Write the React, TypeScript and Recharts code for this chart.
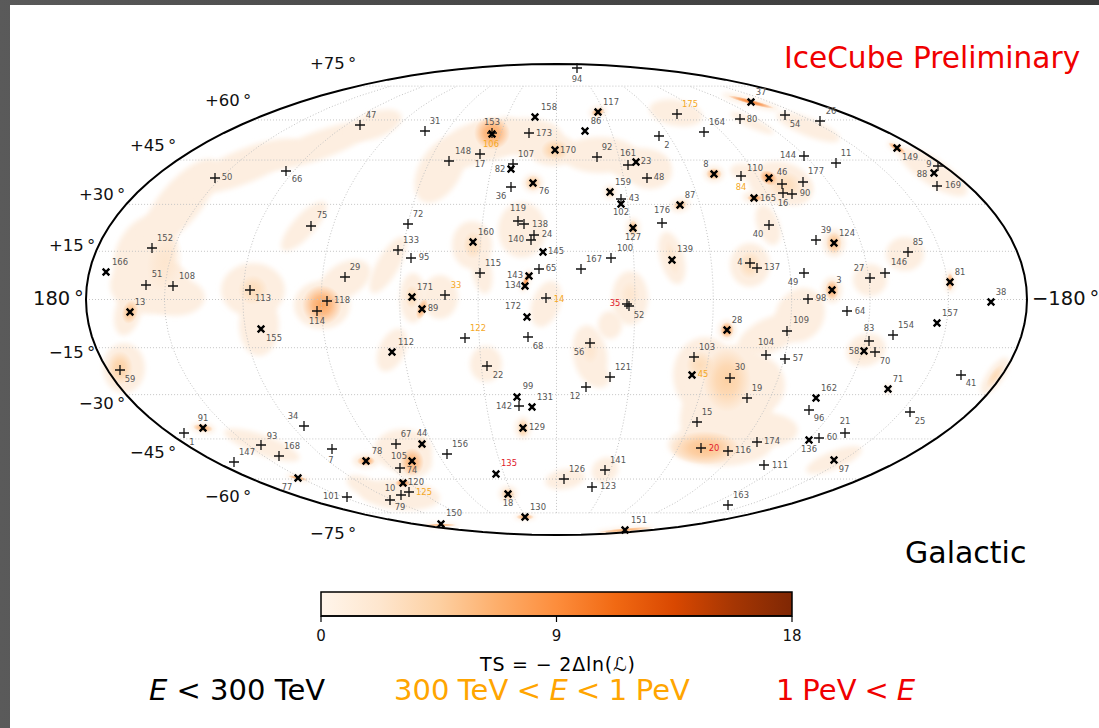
import React from "react";
import { ComposedChart, Scatter, XAxis, YAxis, ReferenceArea } from "recharts";

// Map plane of the picture (Mollweide, galactic): x 0..1099, y 0..728
const MAP_CENTRE_X = 556.5;
const MAP_CENTRE_Y = 299.5;
const MAP_A = 470.5;
const MAP_B = 235.5;

// [id, x, y, labelX, labelY]
const plusMarkers: number[][] = [
  [47,360,125,371,115],[50,215,178,227,177],[66,286,171,297,179],[75,311,226,322,215],[152,152,248,165,238],
  [51,146,285,157,274],[108,173,286,187,276],[113,250,290,263,298],[29,345,277,355,267],[118,327,301,342,300],
  [114,317,311,317,321],[59,120,370,130,379],[1,184,433,192,442],[34,304,426,293,416],[93,261,445,272,436],
  [147,234,462,247,452],[168,279,456,292,446],[7,332,449,331,460],[101,347,497,331,496],[94,577,68,577,79],
  [31,425,131,435,121],[153,492,133,492,122],[173,529,133,544,133],[148,449,161,463,151],[17,480,154,480,164],
  [107,513,164,526,154],[92,597,157,607,147],[161,628,165,628,153],[48,647,178,659,177],[2,659,136,667,145],
  [36,511,187,501,196],[43,621,199,634,198],[176,662,223,662,210],[119,518,221,518,208],[138,524,224,540,224],
  [24,534,235,547,234],[140,531,240,516,239],[72,408,224,418,214],[133,398,250,411,240],[95,411,258,424,257],
  [100,611,258,625,248],[167,581,269,594,259],[65,539,269,551,268],[115,480,273,493,263],[33,445,295,456,285],
  [14,546,298,559,299],[80,740,119,752,119],[54,785,115,795,124],[26,820,121,831,111],[175,677,114,690,104],
  [164,704,132,717,122],[144,804,156,788,155],[11,836,163,846,153],[9,938,166,929,164],[169,937,186,953,185],
  [84,741,176,741,187],[46,782,184,782,172],[177,803,182,816,171],[16,783,193,783,203],[90,792,194,805,193],
  [40,769,225,758,234],[39,816,240,826,230],[85,908,252,918,242],[146,885,273,899,262],[27,870,278,859,268],
  [4,750,263,740,262],[137,757,268,772,267],[49,804,273,793,282],[98,808,299,821,298],[64,847,311,860,311],
  [154,893,335,906,325],[83,869,341,869,328],[70,875,352,885,361],[109,787,331,801,320],[104,766,355,766,342],
  [57,785,359,798,358],[41,961,375,971,383],[30,730,378,740,367],[19,747,398,757,388],[96,809,410,819,418],
  [25,910,412,920,421],[21,845,433,845,421],[60,819,438,832,437],[174,757,442,772,441],[116,728,451,743,450],
  [111,764,465,780,465],[163,728,505,741,495],[35,627,304,615,303],[52,629,306,639,315],[122,465,338,478,328],
  [68,528,337,538,346],[56,590,343,579,352],[103,694,357,707,347],[22,487,366,498,375],[121,610,377,623,367],
  [12,586,387,575,396],[142,519,406,504,406],[15,697,422,707,412],[67,396,444,406,434],[156,447,454,460,444],
  [20,701,448,714,448],[74,400,468,412,470],[141,605,470,618,460],[126,564,479,577,469],[123,592,487,608,486],
  [125,409,492,424,492],[10,401,495,390,488],[79,390,500,400,507],
];

const crossMarkers: number[][] = [
  [166,106,272,120,262],[13,130,312,140,302],[155,261,329,274,338],[91,203,428,203,418],[77,298,478,287,487],
  [78,366,461,377,451],[158,535,117,549,107],[117,598,112,611,102],[86,585,131,596,121],[106,492,134,491,144],
  [82,511,169,500,169],[170,555,150,568,150],[23,636,162,646,161],[76,533,183,544,191],[159,610,192,623,182],
  [102,621,204,621,212],[87,680,205,690,195],[127,633,228,633,237],[160,473,242,486,232],[145,543,252,556,251],
  [139,672,260,685,249],[143,529,276,515,275],[134,525,286,513,285],[171,412,297,425,287],[37,751,102,761,92],
  [149,897,148,910,157],[88,934,173,922,174],[8,714,174,706,164],[110,769,178,755,168],[165,754,198,768,198],
  [124,834,243,847,233],[81,950,282,960,272],[3,832,290,839,280],[38,991,302,1001,292],[157,937,323,950,313],
  [58,864,351,854,351],[28,727,330,737,320],[71,888,389,898,379],[162,816,398,829,388],[136,809,440,809,449],
  [97,834,460,844,469],[89,422,309,433,308],[172,527,317,513,306],[112,392,352,406,342],[45,692,375,703,374],
  [99,517,397,528,386],[131,532,407,545,397],[129,523,428,537,427],[44,422,444,422,433],[105,412,461,399,456],
  [135,496,474,509,463],[120,403,483,416,482],[18,508,494,508,503],[130,525,517,538,507],[150,441,524,454,513],
  [151,625,530,639,520],
];

const orangeLabels = [33, 14, 175, 84, 122, 45, 125, 106];
const redLabels = [35, 20, 135];

// pale TS regions: [x, y, rx, ry, tilt]
const regions: number[][] = [
  [150,285,40,29,0],[175,297,30,19,0],[145,252,28,40,30],[180,203,55,21,-50],[245,166,60,17,-22],[320,145,60,14,-20],
  [375,125,28,13,-20],[128,312,13,24,15],[253,290,32,27,0],[259,325,20,31,0],[322,305,28,24,0],[345,280,28,17,-30],
  [388,265,32,11,-60],[304,226,32,11,-48],[413,298,13,25,0],[440,297,18,22,0],[392,350,13,23,25],[486,364,16,18,0],
  [472,245,20,24,0],[482,272,10,22,-10],[522,230,24,28,0],[526,281,4,12,20],[546,304,14,24,20],[440,170,21,36,30],
  [470,145,35,20,-25],[490,140,25,20,0],[505,135,20,18,0],[525,137,38,19,0],[553,150,24,16,0],[600,155,38,18,0],[640,165,30,17,0],
  [650,172,22,17,0],[533,183,10,9,0],[714,174,10,8,0],[680,205,10,7,-15],[610,192,6,7,0],[633,228,7,10,0],
  [672,258,12,27,-15],[598,112,9,6,-15],[676,113,27,13,10],[751,102,30,4,15],[752,123,24,5,25],[808,127,34,9,22],
  [933,172,40,13,33],[897,148,11,4,30],[745,172,15,8,10],[780,183,32,21,10],[795,190,18,15,0],[755,197,12,6,0],
  [768,225,11,21,-20],[834,243,11,14,0],[905,254,19,17,0],[870,280,17,16,0],[750,265,20,22,0],[950,282,5,11,0],
  [832,290,10,13,0],[800,315,24,28,30],[770,335,35,17,-25],[705,375,32,38,0],[735,375,30,30,0],[755,385,30,30,0],
  [710,420,30,40,0],[730,410,42,30,0],[720,445,52,21,0],[760,430,38,18,0],[727,330,9,10,0],[866,350,20,16,-20],[995,376,22,8,-55],
  [834,460,30,9,-22],[888,389,4,5,0],[124,368,21,25,0],[203,428,12,5,8],[298,478,12,3,12],[366,461,13,7,0],
  [262,445,40,10,20],[403,450,29,21,0],[412,462,20,16,0],[400,495,40,15,5],[365,487,20,9,25],[508,494,9,8,0],
  [523,428,8,11,0],[525,517,11,3,0],[441,525,18,2,0],[625,530,30,2.5,-5],[565,479,20,10,-10],[605,470,14,12,-35],
  [590,355,17,30,-10],[600,378,10,10,0],[630,298,18,27,0],[610,325,12,14,0],
];

// brighter TS peaks: [x, y, rx, ry, tilt, ts]
const peaks: number[][] = [
  [322,305,20,20,0,7],[492,133,18,17,0,7],[555,150,14,11,0,4],[130,312,8,12,15,5],[120,368,13,17,0,4],[253,290,15,15,0,3],
  [412,297,7,12,0,3],[422,309,5,11,20,6],[526,281,3,11,20,8],[533,183,8,8,0,4],[714,174,8,6,0,6],[680,205,7,5,-15,5],
  [610,192,5,6,0,3],[633,228,5,8,0,5],[598,112,7,4,-15,6],[751,102,24,2.5,15,10],[769,178,10,7,30,8],[785,185,18,14,10,3],
  [755,198,8,3.5,0,7],[897,148,10,3,30,8],[834,243,8,11,0,5],[950,282,3.5,9,0,7],[832,290,7,10,0,6],[727,330,7,8,0,7],
  [672,258,6,18,-15,2],[750,265,12,14,0,3],[705,448,35,17,0,5],[727,380,24,32,0,4],[700,365,14,14,0,3],[412,462,12,14,0,6],
  [422,444,5,7,0,3],[403,483,8,4,0,8],[366,461,9,5,0,7],[298,478,10,2,12,7],[203,428,10,4,8,6],[508,494,7,6,0,4],
  [523,428,6,9,0,4],[525,517,9,3,0,6],[441,525,16,1.5,0,6],[625,530,28,2,-5,6],[864,351,12,10,-20,2],[995,376,14,5,-55,3],
  [473,245,10,14,0,3],[630,295,10,14,0,2],[590,350,9,14,0,2],[165,262,18,30,10,2],
];

const latitudeLabels: [string, number, number][] = [
  ["+75\u2009°",310,63],["+60\u2009°",205,100],["+45\u2009°",130,145],["+30\u2009°",79,194],["+15\u2009°",49,245],
  ["−15\u2009°",49,352],["−30\u2009°",79,403],["−45\u2009°",130,452],["−60\u2009°",205,496],["−75\u2009°",310,533],
];
const longitudeLabels: [string, number, number][] = [["180\u2009°",33,298],["−180\u2009°",1032,298]];

const gridLatitudes = [-75,-60,-45,-30,-15,0,15,30,45,60,75];
const gridLongitudes = [-150,-120,-90,-60,-30,0,30,60,90,120,150];

const tsTicks = [0, 9, 18];
const orangesStops = ["#fff5eb","#fee6ce","#fdd0a2","#fdae6b","#fd8d3c","#f16913","#d94801","#a63603","#7f2704"];
const peakColours: Record<number, string> = {
  2:"#fde6cf",3:"#fddcb9",4:"#fdd0a2",5:"#fdc28a",6:"#fdb272",7:"#fda65f",8:"#fd9a4f",9:"#fd8d3c",10:"#f87f2c",
};

const FONT = "'DejaVu Sans', sans-serif";

function auxAngle(latDeg: number): number {
  const target = Math.PI * Math.sin((latDeg * Math.PI) / 180);
  let t = (latDeg * Math.PI) / 360;
  for (let i = 0; i < 30; i++) t -= (2 * t + Math.sin(2 * t) - target) / (2 + 2 * Math.cos(2 * t));
  return t;
}
function project(lonDeg: number, latDeg: number) {
  const t = auxAngle(latDeg);
  return { x: MAP_CENTRE_X + (MAP_A * lonDeg * Math.cos(t)) / 180, y: MAP_CENTRE_Y - MAP_B * Math.sin(t) };
}
const parallels = gridLatitudes.map((lat) => [project(-180, lat), project(180, lat)]);
const latSteps: number[] = [];
for (let l = -75; l <= 75; l += 5) latSteps.push(l);
const meridians = gridLongitudes.map((lon) => latSteps.map((lat) => project(lon, lat)));
const outlineAngles: number[] = [];
for (let a = 0; a <= 360; a += 3) outlineAngles.push(a);
const outline = outlineAngles.map((a) => ({
  x: MAP_CENTRE_X + MAP_A * Math.cos((a * Math.PI) / 180),
  y: MAP_CENTRE_Y + MAP_B * Math.sin((a * Math.PI) / 180),
}));

const regionData = regions.map(([x, y, rx, ry, tilt]) => ({ x, y, rx, ry, tilt }));
const peakData = peaks.map(([x, y, rx, ry, tilt, ts]) => ({ x, y, rx, ry, tilt, ts }));
const plusData = plusMarkers.map(([id, x, y]) => ({ id, x, y }));
const crossData = crossMarkers.map(([id, x, y]) => ({ id, x, y }));
const labelData = [...plusMarkers, ...crossMarkers].map(([id, , , x, y]) => ({ id, x, y }));
const latData = latitudeLabels.map(([text, x, y]) => ({ text, x, y }));
const lonData = longitudeLabels.map(([text, x, y]) => ({ text, x, y }));
const barCorners = [{ t: 0, v: 0 }, { t: 9, v: 1 }, { t: 18, v: 1 }];

const Nothing = () => <g />;
const RegionShape = (p: any) => (
  <g filter="url(#softEdge)">
    <ellipse
      cx={p.cx} cy={p.cy} rx={p.payload.rx} ry={p.payload.ry}
      transform={`rotate(${p.payload.tilt} ${p.cx} ${p.cy})`}
      fill="#fdeee0"
    />
  </g>
);
const PeakShape = (p: any) => (
  <ellipse
    cx={p.cx} cy={p.cy} rx={p.payload.rx} ry={p.payload.ry}
    transform={`rotate(${p.payload.tilt} ${p.cx} ${p.cy})`}
    fill={`url(#peak${p.payload.ts})`}
  />
);
const PlusShape = (p: any) => (
  <path d={`M${p.cx - 5} ${p.cy}H${p.cx + 5}M${p.cx} ${p.cy - 5}V${p.cy + 5}`} stroke="#111" strokeWidth={1.3} fill="none" />
);
const CrossShape = (p: any) => (
  <path
    d={`M${p.cx - 3.3} ${p.cy - 3.3}L${p.cx + 3.3} ${p.cy + 3.3}M${p.cx - 3.3} ${p.cy + 3.3}L${p.cx + 3.3} ${p.cy - 3.3}`}
    stroke="#000" strokeWidth={2.4} fill="none"
  />
);
const IdShape = (p: any) => {
  const id = p.payload.id;
  const fill = redLabels.includes(id) ? "#e0202a" : orangeLabels.includes(id) ? "#f5a81f" : "#555";
  return (
    <text x={p.cx} y={p.cy} fontSize={8.4} fontFamily={FONT} fill={fill} textAnchor="middle" dominantBaseline="central">
      {id}
    </text>
  );
};
const bigText = (size: number) => (p: any) => (
  <text x={p.cx} y={p.cy} fontSize={size} fontFamily={FONT} fill="#111" dominantBaseline="central">
    {p.payload.text}
  </text>
);
const LatShape = bigText(16.5);
const LonShape = bigText(19.5);

const gridLine = { stroke: "#c4c4c4", strokeWidth: 1, strokeDasharray: "1 2" };

export default function App() {
  return (
    <div style={{ position: "absolute", left: 0, top: 0, width: 1099, height: 728, overflow: "hidden", background: "linear-gradient(90deg,#5a5a5a 0,#4e4e4e 300px,#484848 500px,#3a3a3a 1099px)" }}>
      <div style={{ position: "absolute", left: 10, top: 5, width: 1089, height: 723, background: "#fff" }} />
      <div style={{ position: "absolute", left: 0, top: 0 }}>
        <ComposedChart width={1099} height={728} margin={{ top: 0, right: 0, bottom: 0, left: 0 }}>
          <defs>
            <filter id="softEdge" filterUnits="userSpaceOnUse" x={-100} y={-100} width={1300} height={930}>
              <feGaussianBlur stdDeviation={2.8} />
            </filter>
            {Object.entries(peakColours).map(([ts, c]) => (
              <radialGradient key={ts} id={`peak${ts}`}>
                <stop offset="0%" stopColor={c} stopOpacity={1} />
                <stop offset="45%" stopColor={c} stopOpacity={0.7} />
                <stop offset="100%" stopColor={c} stopOpacity={0} />
              </radialGradient>
            ))}
          </defs>
          <XAxis type="number" dataKey="x" domain={[0, 1099]} hide />
          <YAxis type="number" dataKey="y" domain={[0, 728]} reversed hide />
          <Scatter data={regionData} shape={RegionShape} isAnimationActive={false} />
          <Scatter data={peakData} shape={PeakShape} isAnimationActive={false} />
          {parallels.map((d, i) => (
            <Scatter key={`p${i}`} data={d} line={gridLine} lineType="joint" shape={Nothing} isAnimationActive={false} />
          ))}
          {meridians.map((d, i) => (
            <Scatter key={`m${i}`} data={d} line={gridLine} lineType="joint" shape={Nothing} isAnimationActive={false} />
          ))}
          <Scatter data={outline} line={{ stroke: "#000", strokeWidth: 2 }} lineType="joint" shape={Nothing} isAnimationActive={false} />
          <Scatter data={plusData} shape={PlusShape} isAnimationActive={false} />
          <Scatter data={crossData} shape={CrossShape} isAnimationActive={false} />
          <Scatter data={labelData} shape={IdShape} isAnimationActive={false} />
          <Scatter data={latData} shape={LatShape} isAnimationActive={false} />
          <Scatter data={lonData} shape={LonShape} isAnimationActive={false} />
          <text x={784} y={68} fontSize={29.6} fontFamily={FONT} fill="#f00000">IceCube Preliminary</text>
          <text x={905} y={563} fontSize={30} fontFamily={FONT} fill="#000">Galactic</text>
          <text x={480} y={671} fontSize={19} fontFamily={FONT} fill="#000" textLength={155}>TS = − 2Δln(ℒ)</text>
          <text x={149} y={700} fontSize={29} fontFamily={FONT} fill="#000">
            <tspan fontStyle="italic">E</tspan> &lt; 300 TeV
          </text>
          <text x={394} y={700} fontSize={29} fontFamily={FONT} fill="#ffa500" wordSpacing={-0.8}>
            300 TeV &lt; <tspan fontStyle="italic">E</tspan> &lt; 1 PeV
          </text>
          <text x={776} y={700} fontSize={29} fontFamily={FONT} fill="#f00000" wordSpacing={-1.3}>
            1 PeV &lt; <tspan fontStyle="italic">E</tspan>
          </text>
        </ComposedChart>
      </div>
      <div style={{ position: "absolute", left: 301, top: 582 }}>
        <ComposedChart width={511} height={72} margin={{ top: 10, right: 20, bottom: 0, left: 20 }}>
          <defs>
            <linearGradient id="oranges" x1="0" x2="1" y1="0" y2="0">
              {orangesStops.map((c, i) => (
                <stop key={c} offset={`${(i / (orangesStops.length - 1)) * 100}%`} stopColor={c} />
              ))}
            </linearGradient>
          </defs>
          <XAxis
            type="number" dataKey="t" domain={[0, 18]} ticks={tsTicks} height={38} interval={0}
            tickSize={6} tickMargin={8} tickLine={{ stroke: "#000", strokeWidth: 1.2 }} axisLine={{ stroke: "#000", strokeWidth: 1.5 }}
            tick={{ fontSize: 15, fontFamily: FONT, fill: "#111" }}
          />
          <YAxis type="number" dataKey="v" domain={[0, 1]} width={0} hide />
          <Scatter data={barCorners} shape={Nothing} isAnimationActive={false} />
          <ReferenceArea x1={0} x2={18} y1={0} y2={1} ifOverflow="visible" fill="url(#oranges)" fillOpacity={1} stroke="#000" strokeWidth={1.5} />
        </ComposedChart>
      </div>
    </div>
  );
}
